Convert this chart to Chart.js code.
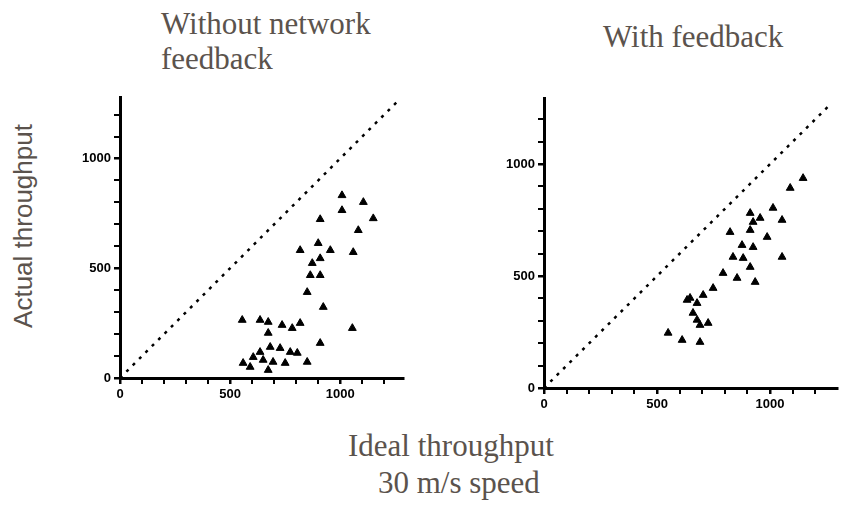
<!DOCTYPE html>
<html>
<head>
<meta charset="utf-8">
<script src="https://cdn.jsdelivr.net/npm/chart.js@4/dist/chart.umd.min.js"></script>
<style>
  body { margin: 0; background: #fff; }
  #page { position: relative; width: 851px; height: 506px; overflow: hidden; }
  .serif { position: absolute; font-family: "Liberation Serif", "Times New Roman", serif; font-size: 31px; color: #5b534d; white-space: nowrap; line-height: 35px; }
  .sans { position: absolute; font-family: "Liberation Sans", Arial, sans-serif; font-size: 26px; color: #5b534d; white-space: nowrap; }
  canvas { position: absolute; }
</style>
</head>
<body>
<div id="page">
  <div class="serif" style="left:161px; top:6px;">Without network<br>feedback</div>
  <div class="serif" style="left:603px; top:19px;">With feedback</div>
  <div class="sans" style="left:23px; top:226px; transform: translate(-50%, -50%) rotate(-90deg);">Actual throughput</div>
  <div class="serif" style="left:348px; top:428px;">Ideal throughput</div>
  <div class="serif" style="left:378px; top:465px;">30 m/s speed</div>
  <div style="position:absolute; left:40px; top:80px; width:380px; height:340px;"><canvas id="left"></canvas></div>
  <div style="position:absolute; left:470px; top:80px; width:381px; height:350px;"><canvas id="right"></canvas></div>
</div>
<script>
// labelled ticks and the small tick marks between them
const tickValues = [0, 500, 1000];
const minorTickValues = [0, 100, 200, 300, 400, 500, 600, 700, 800, 900, 1000, 1100, 1200];

// without network feedback
const leftX = [1008, 1105, 1008, 909, 1150, 1082, 900, 818, 955, 1059, 909, 873, 864, 909, 850, 923,
  555, 636, 673, 736, 818, 782, 1055, 673, 909, 682, 727, 636, 773, 805, 605, 650, 850, 695, 559, 750, 673, 591];
const leftY = [832, 801, 764, 723, 727, 673, 614, 582, 582, 573, 545, 523, 468, 468, 391, 323,
  264, 264, 255, 241, 250, 227, 227, 205, 159, 141, 136, 118, 118, 114, 95, 82, 73, 73, 68, 68, 36, 50];

// with feedback
const rightX = [1146, 1089, 1013, 1053, 912, 925, 823, 912, 987, 876, 925, 836, 881, 1053, 912, 792,
  854, 934, 748, 704, 633, 677, 659, 690, 726, 549, 611, 690, 646, 677, 956];
const rightY = [937, 893, 804, 750, 781, 741, 696, 705, 674, 638, 629, 585, 580, 585, 540, 513,
  491, 473, 446, 415, 393, 379, 335, 281, 290, 246, 214, 205, 402, 304, 759];

// ideal line (actual = ideal)
const idealLeft = [0, 1270];
const idealRight = [0, 1268];

function toPoints(xs, ys) {
  return xs.map((x, i) => ({ x: x, y: ys[i] }));
}

function axis(max, fitSize, horizontal) {
  return {
    type: 'linear',
    min: 0,
    max: max,
    ticks: {
      autoSkip: false,
      maxRotation: 0,
      padding: 3,
      color: '#000',
      font: { family: 'Liberation Sans', size: 13, weight: 'bold' },
      callback: v => tickValues.includes(v) ? String(v) : ''
    },
    grid: {
      drawOnChartArea: false,
      drawTicks: true,
      tickLength: 6,
      color: '#000',
      lineWidth: ctx => (ctx.tick && tickValues.includes(ctx.tick.value)) ? 2.5 : 2
    },
    border: { color: '#000', width: 3 },
    afterBuildTicks: scale => {
      scale.ticks = minorTickValues.map(v => ({ value: v }));
    },
    afterFit: scale => {
      if (horizontal) scale.height = fitSize; else scale.width = fitSize;
    }
  };
}

function makePanel(id, xs, ys, ideal, xMax, yMax, yWidth, xHeight, padding) {
  return new Chart(document.getElementById(id), {
    type: 'scatter',
    data: {
      datasets: [{
        type: 'line',
        data: toPoints(ideal, ideal),
        borderColor: '#000',
        borderWidth: 2.5,
        borderDash: [3, 6],
        pointRadius: 0,
        fill: false
      }, {
        data: toPoints(xs, ys),
        pointStyle: 'triangle',
        pointRadius: 4.5,
        backgroundColor: '#000',
        borderColor: '#000',
        borderWidth: 1
      }]
    },
    options: {
      responsive: true,
      maintainAspectRatio: false,
      animation: false,
      layout: { padding: padding },
      plugins: { legend: { display: false }, tooltip: { enabled: false } },
      scales: {
        x: axis(xMax, xHeight, true),
        y: axis(yMax, yWidth, false)
      }
    }
  });
}

makePanel('left', leftX, leftY, idealLeft, 1285, 1280, 80, 42, { top: 17, right: 17, left: 0, bottom: 0 });
makePanel('right', rightX, rightY, idealRight, 1296, 1295, 74, 42, { top: 18, right: 14, left: 0, bottom: 0 });
</script>
</body>
</html>
